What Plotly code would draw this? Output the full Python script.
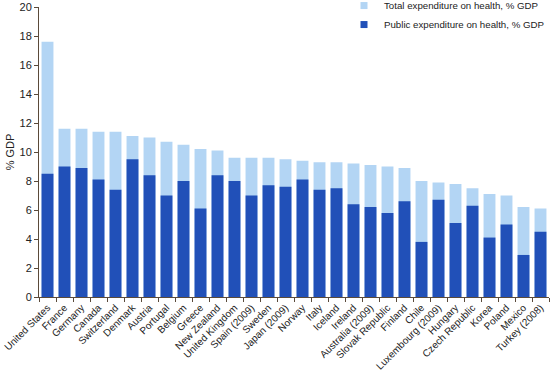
import plotly.graph_objects as go

countries = ["United States", "France", "Germany", "Canada", "Switzerland", "Denmark",
             "Austria", "Portugal", "Belgium", "Greece", "New Zealand", "United Kingdom",
             "Spain (2009)", "Sweden", "Japan (2009)", "Norway", "Italy", "Iceland",
             "Ireland", "Australia (2009)", "Slovak Republic", "Finland", "Chile",
             "Luxembourg (2009)", "Hungary", "Czech Republic", "Korea", "Poland",
             "Mexico", "Turkey (2008)"]
total_exp = [17.6, 11.6, 11.6, 11.4, 11.4, 11.1, 11.0, 10.7, 10.5, 10.2, 10.1, 9.6,
             9.6, 9.6, 9.5, 9.4, 9.3, 9.3, 9.2, 9.1, 9.0, 8.9, 8.0, 7.9, 7.8, 7.5,
             7.1, 7.0, 6.2, 6.1]
public_exp = [8.5, 9.0, 8.9, 8.1, 7.4, 9.5, 8.4, 7.0, 8.0, 6.1, 8.4, 8.0, 7.0, 7.7,
              7.6, 8.1, 7.4, 7.5, 6.4, 6.2, 5.8, 6.6, 3.8, 6.7, 5.1, 6.3, 4.1, 5.0,
              2.9, 4.5]
y_ticks = [0, 2, 4, 6, 8, 10, 12, 14, 16, 18, 20]
series_names = ["Total expenditure on health, % GDP", "Public expenditure on health, % GDP"]
series_colors = ["#b3d5f4", "#2150b8"]

fig = go.Figure()
for vals, name, col in zip([total_exp, public_exp], series_names, series_colors):
    fig.add_trace(go.Bar(x=countries, y=vals, name=name, showlegend=False,
                         marker=dict(color=col, line=dict(width=0))))
# legend entries with small square swatches
for name, col in zip(series_names, series_colors):
    fig.add_trace(go.Scatter(x=[None], y=[None], mode="markers", name=name,
                             marker=dict(symbol="square", size=7, color=col)))

fig.update_layout(
    width=550, height=372,
    margin=dict(l=39, r=1, t=7, b=75, autoexpand=False),
    barmode="overlay", bargap=0.3,
    plot_bgcolor="white", paper_bgcolor="white",
    font=dict(family="Liberation Sans, Arial, sans-serif", size=10, color="#222"),
    legend=dict(x=1.0, y=1.055, xanchor="right", yanchor="top", traceorder="normal",
                bgcolor="rgba(255,255,255,0)", font=dict(size=9.7),
                itemwidth=30, tracegroupgap=2),
    showlegend=True,
)
fig.update_xaxes(tickangle=-45, showline=True, linecolor="#5a4a3a", linewidth=1,
                 ticks="outside", tickson="boundaries", ticklen=4, tickcolor="#5a4a3a",
                 showgrid=False, tickfont=dict(size=10), automargin=False)
fig.update_yaxes(range=[0, 20], tickvals=y_ticks, showline=True, linecolor="#5a4a3a",
                 linewidth=1, ticks="outside", ticklen=4, tickcolor="#5a4a3a",
                 showgrid=False, zeroline=False, tickfont=dict(size=11), automargin=False,
                 title=dict(text="% GDP", font=dict(size=11), standoff=2))

fig.write_html("out.html", config={"displayModeBar": False},
               post_script="document.body.style.margin='0';document.body.style.padding='0';")
